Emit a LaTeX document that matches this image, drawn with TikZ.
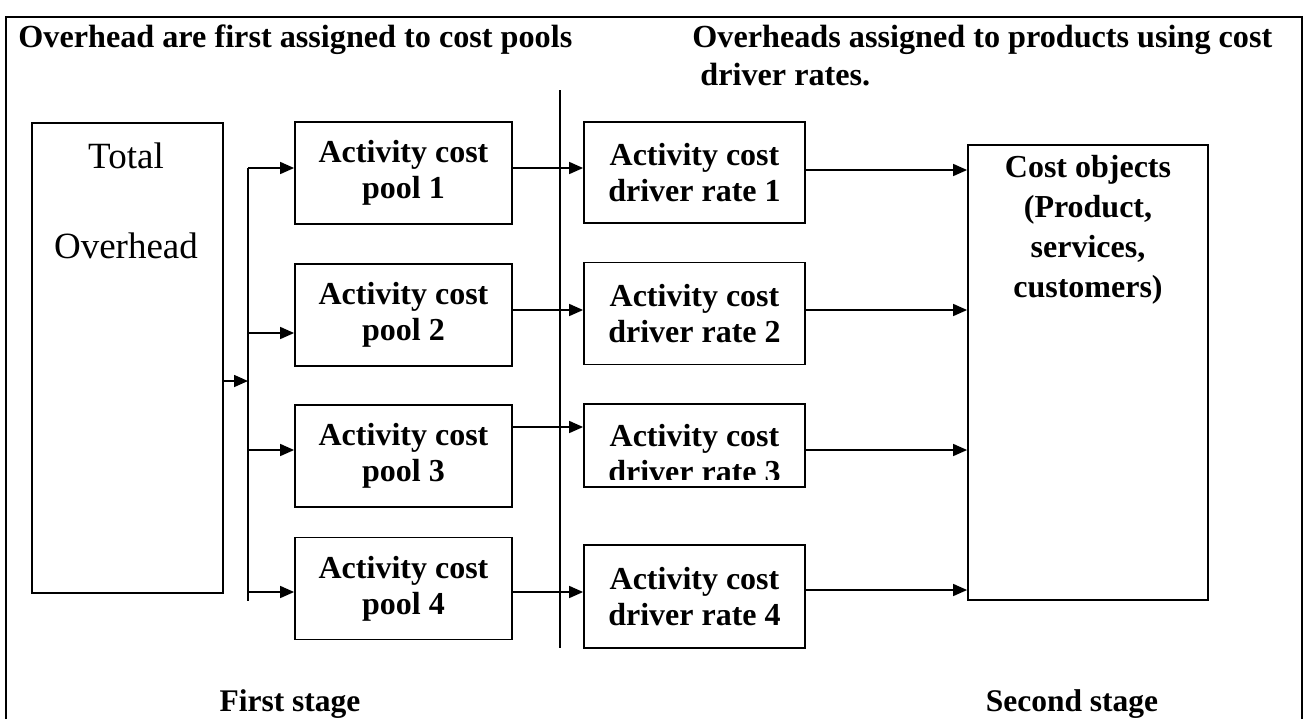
\documentclass[tikz,border=0pt]{standalone}
\usepackage{fontspec}
\setmainfont{Liberation Serif}
\usepackage{tikz}
\usetikzlibrary{arrows.meta}

\begin{document}
\begin{tikzpicture}[x=0.5pt, y=-0.5pt,
  box/.style={draw, line width=0.9pt, align=center, inner sep=0pt,
              font=\fontsize{16}{18}\selectfont\bfseries},
  poolbox/.style={box, minimum width=108.5pt, minimum height=51pt},
  ratebox/.style={box, minimum width=110.5pt, minimum height=51pt},
  head/.style={font=\fontsize{16.1}{19}\selectfont\bfseries, inner sep=0pt, align=left},
  stage/.style={font=\fontsize{15.75}{18}\selectfont\bfseries, inner sep=0pt},
  arr/.style={-{Triangle[length=7pt, width=6pt]}, line width=0.8pt},
  link/.style={line width=0.8pt}]
  \useasboundingbox (0,0) rectangle (1308,719);
  \draw[line width=0.9pt] (6,719) -- (6,17) -- (1302,17) -- (1302,719);

  % headings
  \node[head, anchor=base west] (h1) at (18,47) {Overhead are first assigned to cost pools};
  \node[head, anchor=base west] (h2) at (692,85) {Overheads assigned to products using cost\\\hspace{4pt}driver rates.};
  \node[stage, anchor=base] (s1) at (290,711) {First stage};
  \node[stage, anchor=base] (s2) at (1072,711) {Second stage};

  % first stage
  \node[box, minimum width=95.5pt, minimum height=235pt] (tot) at (127.5,358) {};
  \node[font=\fontsize{18.5}{45}\selectfont, align=center, inner sep=0pt, anchor=base] (tottxt) at (126,258) {Total\\Overhead};
  \node[poolbox] (pool1) at (403.5,173) {Activity cost\\pool 1};
  \node[poolbox] (pool2) at (403.5,315) {Activity cost\\pool 2};
  \node[poolbox] (pool3) at (403.5,456) {Activity cost\\pool 3};
  \node[poolbox] (pool4) at (403.5,588.5) {Activity cost\\pool 4};

  % second stage
  \node[ratebox, minimum height=50.5pt] (rate1) at (694.5,172.5) {Activity cost\\driver rate 1};
  \node[ratebox] (rate2) at (694.5,313.5) {Activity cost\\driver rate 2};
  \node[ratebox, minimum height=41.5pt] (rate3) at (694.5,445.5) {};
  \begin{scope}
    \clip (584,404) rectangle (805,479);
    \node[font=\fontsize{16}{18}\selectfont\bfseries, align=center, inner sep=0pt] (rate3txt) at (694.5,454) {Activity cost\\driver rate 3};
  \end{scope}
  \node[ratebox, minimum height=51.5pt] (rate4) at (694.5,596.5) {Activity cost\\driver rate 4};
  \node[box, minimum width=120pt, minimum height=227.5pt] (cost) at (1088,372.5) {};
  \node[font=\fontsize{16}{20}\selectfont\bfseries, align=center] (costtxt) at (1088,230) {Cost objects\\(Product,\\services,\\customers)};

  % bus and divider
  \coordinate (b1) at (248,168);
  \coordinate (b2) at (248,333);
  \coordinate (b0) at (248,381);
  \coordinate (b3) at (248,450);
  \coordinate (b4) at (248,592);
  \coordinate (bend) at (248,601);
  \coordinate (divtop) at (560,90);
  \coordinate (divbot) at (560,648);
  \draw[link] (b1) -- (bend);
  \draw[link] (divtop) -- (divbot);

  \draw[arr] (tot.east |- b0) -- (b0);
  \draw[arr] (b1) -- (b1 -| pool1.west);
  \draw[arr] (b2) -- (b2 -| pool2.west);
  \draw[arr] (b3) -- (b3 -| pool3.west);
  \draw[arr] (b4) -- (b4 -| pool4.west);

  \coordinate (p1) at (0,168);
  \coordinate (p2) at (0,310);
  \coordinate (p3) at (0,427);
  \coordinate (p4) at (0,592);
  \draw[arr] (pool1.east |- p1) -- (rate1.west |- p1);
  \draw[arr] (pool2.east |- p2) -- (rate2.west |- p2);
  \draw[arr] (pool3.east |- p3) -- (rate3.west |- p3);
  \draw[arr] (pool4.east |- p4) -- (rate4.west |- p4);

  \coordinate (c1) at (0,170);
  \coordinate (c2) at (0,310);
  \coordinate (c3) at (0,450);
  \coordinate (c4) at (0,590);
  \draw[arr] (rate1.east |- c1) -- (cost.west |- c1);
  \draw[arr] (rate2.east |- c2) -- (cost.west |- c2);
  \draw[arr] (rate3.east |- c3) -- (cost.west |- c3);
  \draw[arr] (rate4.east |- c4) -- (cost.west |- c4);
\end{tikzpicture}
\end{document}
